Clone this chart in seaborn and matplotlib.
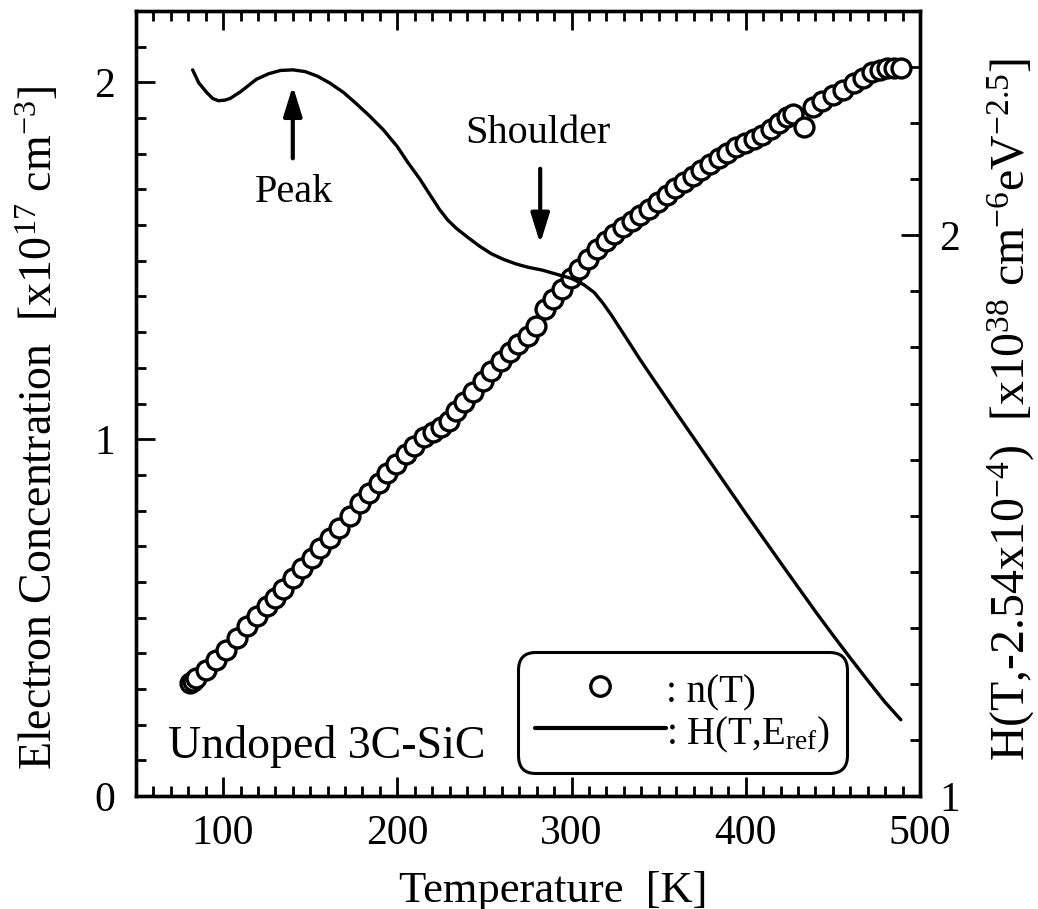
import matplotlib
matplotlib.use("Agg")
import matplotlib.pyplot as plt
import numpy as np
import pandas as pd
import seaborn as sns
from matplotlib.ticker import MultipleLocator, FixedLocator, FormatStrFormatter
from matplotlib.lines import Line2D

# ---------------- data ----------------
T_n = [80.8, 82.5, 84.6, 90.4, 96.2, 101.9, 107.7, 113.5, 119.2, 125.0, 129.8, 134.6,
       140.4, 145.2, 151.0, 155.8, 161.5, 166.3, 173.1, 178.8, 183.7, 189.4, 194.2,
       199.0, 204.8, 209.6, 215.4, 220.2, 225.0, 229.8, 233.7, 238.5, 243.3, 249.0,
       253.8, 259.6, 264.4, 269.2, 275.0, 279.8, 284.6, 289.5, 294.5, 299.5, 304.5,
       309.5, 314.5, 319.5, 324.5, 329.5, 334.5, 339.5, 344.5, 349.5, 354.5, 359.5,
       364.5, 369.5, 374.5, 379.5, 384.5, 389.5, 394.5, 399.5, 404.5, 409.5, 414.5,
       419.0, 423.5, 427.0, 433.6, 438.8, 444.0, 450.0, 456.0, 462.0, 467.0, 472.6,
       477.0, 481.0, 485.0, 489.0]
n_vals = [0.316, 0.322, 0.330, 0.354, 0.382, 0.410, 0.443, 0.476, 0.504, 0.532, 0.555,
          0.579, 0.611, 0.640, 0.668, 0.696, 0.724, 0.752, 0.785, 0.822, 0.850, 0.878,
          0.906, 0.930, 0.958, 0.981, 1.005, 1.019, 1.033, 1.051, 1.080, 1.103, 1.131,
          1.164, 1.192, 1.220, 1.243, 1.267, 1.290, 1.318, 1.365, 1.392, 1.420, 1.452,
          1.478, 1.505, 1.532, 1.555, 1.575, 1.595, 1.612, 1.628, 1.645, 1.665, 1.685,
          1.705, 1.722, 1.738, 1.755, 1.770, 1.787, 1.803, 1.818, 1.830, 1.842, 1.853,
          1.868, 1.885, 1.903, 1.910, 1.875, 1.931, 1.948, 1.964, 1.980, 1.997, 2.013,
          2.030, 2.035, 2.039, 2.040, 2.039]

T_h = [82.5, 86, 90.5, 94, 97.2, 101, 104, 110, 119, 126, 133, 140, 147, 154, 161,
       169, 176, 184, 192, 200, 206, 213, 219, 224, 229, 234, 241, 247, 254, 261, 268,
       275, 283, 292, 300, 307, 313, 318, 323, 328, 333, 339, 345.5, 360, 380, 400,
       420, 440, 450, 460, 470, 480, 489]
H_vals = [2.295, 2.272, 2.255, 2.244, 2.240, 2.241, 2.244, 2.256, 2.278, 2.288, 2.294,
          2.295, 2.292, 2.284, 2.272, 2.255, 2.236, 2.213, 2.188, 2.158, 2.130, 2.100,
          2.071, 2.047, 2.027, 2.012, 1.995, 1.981, 1.967, 1.957, 1.949, 1.943, 1.938,
          1.930, 1.923, 1.912, 1.898, 1.879, 1.857, 1.833, 1.809, 1.780, 1.750, 1.684,
          1.594, 1.504, 1.416, 1.329, 1.287, 1.246, 1.206, 1.167, 1.136]

x_ticks = [100, 200, 300, 400, 500]
left_ticks = [0, 1, 2]
right_ticks = [1, 2]

df_n = pd.DataFrame({"T": T_n, "n": n_vals})
df_h = pd.DataFrame({"T": T_h, "H": H_vals})

# ---------------- style ----------------
sns.set_theme(style="ticks")
plt.rcParams["font.family"] = ["Liberation Serif", "DejaVu Serif"]
plt.rcParams["mathtext.fontset"] = "custom"
plt.rcParams["mathtext.rm"] = "Liberation Serif"
plt.rcParams["mathtext.it"] = "Liberation Serif:italic"
plt.rcParams["mathtext.bf"] = "Liberation Serif:bold"
for k in ("text.color", "axes.labelcolor", "xtick.color", "ytick.color", "axes.edgecolor"):
    plt.rcParams[k] = "black"

W, H = 1038, 909
fig = plt.figure(figsize=(W / 100, H / 100), dpi=100)
fig.patch.set_facecolor("white")
L, R, T, B = 136, 920, 11, 796
ax = fig.add_axes([L / W, 1 - B / H, (R - L) / W, (B - T) / H])
ax.set_facecolor("white")

sns.scatterplot(data=df_n, x="T", y="n", ax=ax, marker="o", s=185,
                facecolor="white", edgecolor="black", linewidth=2.4, zorder=3,
                legend=False)

ax.set_xlim(50, 500)
ax.set_ylim(0, 2.2)
ax.xaxis.set_major_locator(FixedLocator(x_ticks))
ax.xaxis.set_minor_locator(MultipleLocator(10))
ax.yaxis.set_major_locator(FixedLocator(left_ticks))
ax.yaxis.set_minor_locator(MultipleLocator(0.1))
ax.yaxis.set_major_formatter(FormatStrFormatter("%d"))
ax.tick_params(axis="both", which="both", direction="in", top=True, right=False,
               width=2.0, colors="black")
ax.tick_params(axis="both", which="major", length=14, labelsize=30)
ax.tick_params(axis="both", which="minor", length=7.5)
ax.tick_params(axis="x", which="major", pad=13)
ax.tick_params(axis="y", which="major", pad=15)

ax.set_xlabel("Temperature  [K]", fontsize=32)
ax.set_ylabel(r"Electron Concentration  [x10$\mathregular{^{17}}$ cm$\mathregular{^{-3}}$]",
              fontsize=33)
ax.xaxis.set_label_coords(0.532, -0.095)
ax.yaxis.set_label_coords(-0.094, 0.469)

ax2 = ax.twinx()
sns.lineplot(data=df_h, x="T", y="H", ax=ax2, color="black", linewidth=2.4,
             sort=False, legend=False, zorder=4)
ax2.set_ylim(1, 2.4)
ax2.yaxis.set_major_locator(FixedLocator(right_ticks))
ax2.yaxis.set_minor_locator(MultipleLocator(0.1))
ax2.yaxis.set_major_formatter(FormatStrFormatter("%d"))
ax2.tick_params(axis="y", which="both", direction="in", right=True, width=2.0,
                colors="black")
ax2.tick_params(axis="y", which="major", length=14, labelsize=30, pad=14)
ax2.tick_params(axis="y", which="minor", length=7.5)
ax2.set_ylabel(r"H(T,-2.54x10$\mathregular{^{-4}}$)  [x10$\mathregular{^{38}}$ cm$\mathregular{^{-6}}$eV$\mathregular{^{-2.5}}$]",
               fontsize=34.5, rotation=90)
ax2.yaxis.set_label_coords(1.083, 0.493)
for a in (ax, ax2):
    for sp in a.spines.values():
        sp.set_linewidth(2.4)
        sp.set_color("black")

# ---------------- annotations ----------------
arrow_kw = dict(arrowstyle="-|>,head_length=0.9,head_width=0.28", color="black",
                lw=3, shrinkA=0, shrinkB=0, mutation_scale=20)
ax.annotate("", xy=(140.0, 1.99), xytext=(140.0, 1.787), arrowprops=arrow_kw)
ax.text(140.6, 1.69, "Peak", fontsize=29, ha="center", va="center")
ax.annotate("", xy=(282.0, 1.548), xytext=(282.0, 1.758), arrowprops=arrow_kw)
ax.text(280.5, 1.857, "Shoulder", fontsize=29, ha="center", va="center")

ax.text(0.041, 0.048, "Undoped 3C-SiC", fontsize=33, ha="left", va="baseline",
        transform=ax.transAxes)

# ---------------- legend ----------------
h_n = Line2D([], [], marker="o", ls="none", mfc="white", mec="black", ms=14, mew=2.4)
h_h = Line2D([], [], color="black", lw=3)
leg = ax2.legend([h_n, h_h], [": n(T)", r": H(T,E$\mathregular{_{ref}}$)"],
                 loc="upper left", bbox_to_anchor=(0.487, 0.1834), borderaxespad=0,
                 fontsize=28, handlelength=3.35, handleheight=1.2, handletextpad=0.0,
                 borderpad=0.45, labelspacing=0.0, frameon=True, fancybox=True,
                 framealpha=1)
fr = leg.get_frame()
fr.set_edgecolor("black")
fr.set_linewidth(2.2)
fr.set_boxstyle("round", pad=0, rounding_size=0.45)

fig.savefig("out.png", dpi=100, facecolor="white")
